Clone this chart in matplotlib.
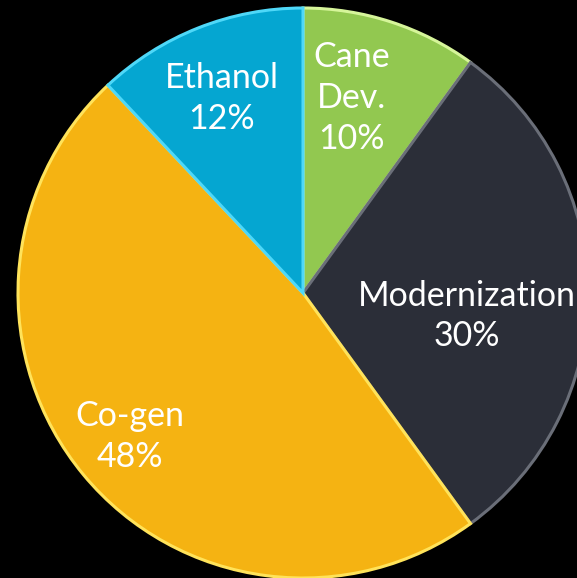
import numpy as np
import matplotlib.pyplot as plt

# slice data, clockwise from 12 o'clock
labels = ["Cane\nDev.", "Modernization", "Co-gen", "Ethanol"]
shares = [10, 30, 48, 12]
colors = ["#92c850", "#2b2e38", "#f5b312", "#05a6d1"]
edges = ["#d6f59a", "#6a6e78", "#ffe35a", "#4fd8f8"]

# how far out (fraction of radius) and angular nudge for each label
label_dist = [0.705, 0.58, 0.79, 0.74]
label_nudge = [4, -8, 0, 1]

W, H = 577, 578
fig = plt.figure(figsize=(W / 100, H / 100), dpi=100)
fig.patch.set_facecolor("black")
ax = fig.add_axes([0, 0, 1, 1])
ax.set_facecolor("black")

cx, cy, R = 303, 285, 285
wedges, _ = ax.pie(shares, colors=colors, startangle=90, counterclock=False,
                   radius=R, center=(cx, cy), frame=True,
                   wedgeprops=dict(linewidth=2.2))
for w, ec in zip(wedges, edges):
    w.set_edgecolor(ec)

for w, lab, val, d, nud in zip(wedges, labels, shares, label_dist, label_nudge):
    mid = np.deg2rad((w.theta1 + w.theta2) / 2 + nud)
    x = cx + d * R * np.cos(mid)
    y = cy + d * R * np.sin(mid)
    ax.text(x, y, f"{lab}\n{val}%", ha="center", va="center", color="white",
            fontsize=24.5, family=["Lato", "DejaVu Sans"], linespacing=1.33)

ax.set_xlim(0, W)
ax.set_ylim(0, H)
ax.set_aspect("equal")
ax.axis("off")

fig.savefig("out.png", dpi=100, facecolor="black")
